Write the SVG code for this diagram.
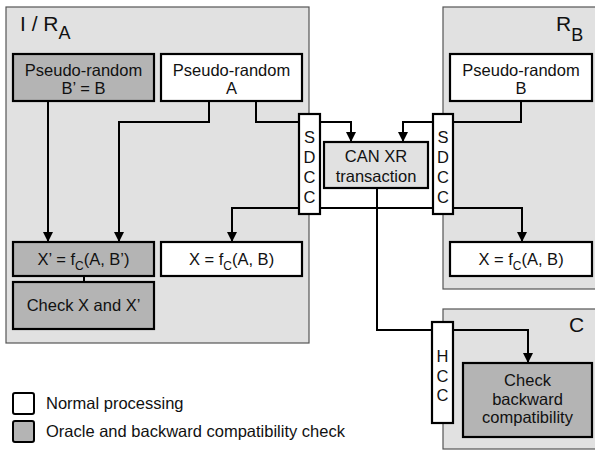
<svg xmlns="http://www.w3.org/2000/svg" width="595" height="451" viewBox="0 0 595 451">
<defs>
<marker id="arr" viewBox="0 0 10 10" refX="10" refY="5" markerWidth="5.5" markerHeight="5" markerUnits="strokeWidth" orient="auto">
<path d="M0,0 L10,5 L0,10 Z" fill="#000"/>
</marker>
<style>
text{font-family:"Liberation Sans",Arial,Helvetica,sans-serif;fill:#111;}
.cont{fill:#e1e1e1;stroke:#555;stroke-width:1.2;}
.title{font-size:21px;}
.sub{font-size:18px;}
.n{font-size:16.5px;text-anchor:middle;}
.w{fill:#fff;stroke:#000;stroke-width:2.2;}
.g{fill:#b4b4b4;stroke:#000;stroke-width:2.2;}
.l{fill:#e1e1e1;stroke:#000;stroke-width:2.2;}
.c{fill:none;stroke:#000;stroke-width:2;}
.leg{font-size:16.5px;}
</style>
</defs>
<rect width="595" height="451" fill="#fff"/>

<g id="container-IRA">
<rect class="cont" x="6" y="7" width="303" height="336"/>
<text class="title" x="20" y="31">I / R<tspan class="sub" dy="8">A</tspan></text>
</g>
<g id="container-RB">
<rect class="cont" x="443" y="7" width="160" height="282"/>
<text class="title" x="556" y="31">R<tspan class="sub" dy="10">B</tspan></text>
</g>
<g id="container-C">
<rect class="cont" x="443" y="309" width="160" height="140"/>
<text class="title" x="569" y="332">C</text>
</g>

<g id="connectors">
<path class="c" d="M48,101 V242" marker-end="url(#arr)"/>
<path class="c" d="M209,101 V122 H119 V242" marker-end="url(#arr)"/>
<path class="c" d="M256,101 V122 H351 V142" marker-end="url(#arr)"/>
<path class="c" d="M521,101 V122 H403 V142" marker-end="url(#arr)"/>
<path class="c" d="M377,208 H232 V242" marker-end="url(#arr)"/>
<path class="c" d="M377,208 H522 V242" marker-end="url(#arr)"/>
<path class="c" d="M377,188 V330 H528 V363" marker-end="url(#arr)"/>
<path class="c" d="M84,276 V282"/>
</g>

<g id="pseudo-random-Bprime">
<rect class="g" x="13" y="54" width="141" height="47"/>
<text class="n" x="83.5" y="75.5">Pseudo-random</text>
<text class="n" x="83.5" y="94">B’ = B</text>
</g>
<g id="pseudo-random-A">
<rect class="w" x="161" y="54" width="141" height="47"/>
<text class="n" x="231.5" y="75.5">Pseudo-random</text>
<text class="n" x="231.5" y="94">A</text>
</g>
<g id="pseudo-random-B">
<rect class="w" x="450" y="54" width="142" height="47"/>
<text class="n" x="521" y="75.5">Pseudo-random</text>
<text class="n" x="521" y="94">B</text>
</g>
<g id="xprime">
<rect class="g" x="13" y="242" width="141" height="34"/>
<text class="n" x="83.5" y="265">X’ = f<tspan font-size="12" dy="5">C</tspan><tspan dy="-5">(A, B’)</tspan></text>
</g>
<g id="check-x">
<rect class="g" x="13" y="282" width="141" height="47"/>
<text class="n" x="83.5" y="311">Check X and X’</text>
</g>
<g id="x-left">
<rect class="w" x="161" y="242" width="141" height="34"/>
<text class="n" x="231.5" y="265">X = f<tspan font-size="12" dy="5">C</tspan><tspan dy="-5">(A, B)</tspan></text>
</g>
<g id="x-right">
<rect class="w" x="450" y="242" width="142" height="34"/>
<text class="n" x="521" y="265">X = f<tspan font-size="12" dy="5">C</tspan><tspan dy="-5">(A, B)</tspan></text>
</g>
<g id="can-xr">
<rect class="l" x="324" y="142" width="104" height="46"/>
<text class="n" x="376" y="162">CAN XR</text>
<text class="n" x="376" y="182">transaction</text>
</g>
<g id="sdcc-left">
<rect class="w" x="299" y="114" width="21" height="100"/>
<text class="n" x="309.5" y="143">S</text>
<text class="n" x="309.5" y="163">D</text>
<text class="n" x="309.5" y="183">C</text>
<text class="n" x="309.5" y="203">C</text>
</g>
<g id="sdcc-right">
<rect class="w" x="433" y="114" width="20" height="100"/>
<text class="n" x="443" y="143">S</text>
<text class="n" x="443" y="163">D</text>
<text class="n" x="443" y="183">C</text>
<text class="n" x="443" y="203">C</text>
</g>
<g id="hcc">
<rect class="w" x="432" y="322" width="21" height="101"/>
<text class="n" x="442.5" y="362">H</text>
<text class="n" x="442.5" y="381.5">C</text>
<text class="n" x="442.5" y="401">C</text>
</g>
<g id="check-backward">
<rect class="g" x="463" y="363" width="129" height="74"/>
<text class="n" x="527.5" y="386">Check</text>
<text class="n" x="527.5" y="404.5">backward</text>
<text class="n" x="527.5" y="423">compatibility</text>
</g>

<g id="legend">
<rect x="13" y="393" width="21" height="21" rx="2" fill="#fff" stroke="#000" stroke-width="2"/>
<text class="leg" x="46" y="409">Normal processing</text>
<rect x="13" y="421" width="21" height="21" rx="2" fill="#b4b4b4" stroke="#000" stroke-width="2"/>
<text class="leg" x="46" y="437">Oracle and backward compatibility check</text>
</g>
</svg>
